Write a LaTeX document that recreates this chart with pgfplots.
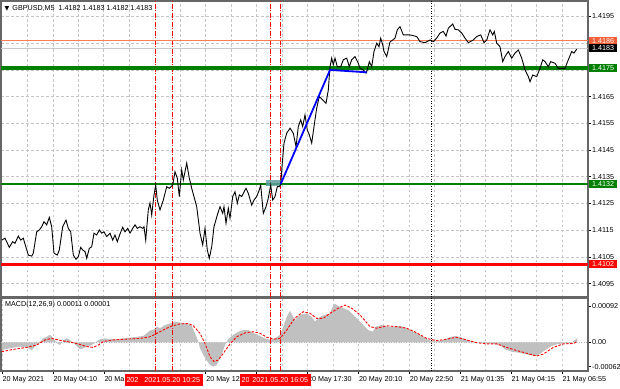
\documentclass[border=0pt]{standalone}
\usepackage{pgfplots}
\pgfplotsset{compat=1.18}
\usepackage{fontspec}
\setmainfont{Liberation Sans}
\newfontfamily\symfont{DejaVu Sans}
\definecolor{gridc}{RGB}{196,196,196}
\definecolor{lvlorange}{RGB}{255,125,85}
\definecolor{boxorange}{RGB}{245,95,55}
\definecolor{lvlgreen}{RGB}{0,128,0}
\definecolor{macdgray}{RGB}{192,192,192}
\definecolor{zoneteal}{RGB}{95,158,160}
\definecolor{bidgray}{RGB}{200,200,200}

\pgfplotstableread{
x y
1.7 1.41113
5 1.41120
9.3 1.41086
12.7 1.41107
15 1.41101
18.3 1.41128
20.7 1.41113
23.3 1.41120
28.3 1.41057
31.7 1.41053
33.3 1.41064
36.7 1.41144
39.3 1.41151
41.7 1.41163
44 1.41182
46.7 1.41170
49.3 1.41198
51.7 1.41163
54 1.41064
57.3 1.41057
59.3 1.41076
62.7 1.41163
66 1.41188
68.3 1.41157
70.7 1.41144
73.3 1.41057
76 1.41041
78.3 1.41051
80.7 1.41086
82.7 1.41076
85 1.41070
86.7 1.41045
89.3 1.41082
91.7 1.41088
94 1.41139
96.7 1.41132
99.3 1.41151
101.7 1.41139
104 1.41144
106.7 1.41126
110 1.41139
112.7 1.41113
115 1.41132
117.3 1.41107
120 1.41136
122.7 1.41161
125 1.41144
127.7 1.41157
130 1.41139
132.7 1.41157
135 1.41170
137.3 1.41157
140 1.41163
142.7 1.41157
144 1.41163
145.7 1.41113
148.3 1.41226
150 1.41252
151.7 1.41207
154 1.41282
155.7 1.41319
157.3 1.41263
160 1.41226
163.3 1.41263
166.7 1.41313
169.3 1.41307
172.7 1.41319
175 1.41369
177.3 1.41345
179.3 1.41276
181.7 1.41376
183.3 1.41338
186.7 1.41401
189.3 1.41345
191.7 1.41307
196.7 1.41238
200 1.41139
202.7 1.41095
205 1.41157
207.3 1.41076
209.3 1.41045
211.7 1.41088
214 1.41163
217.3 1.41207
220 1.41238
222.7 1.41213
224 1.41238
226 1.41176
228.3 1.41232
230 1.41195
232.7 1.41276
235 1.41294
237.3 1.41251
239.3 1.41282
241.7 1.41276
246 1.41307
248.3 1.41288
251.7 1.41244
254 1.41263
256.7 1.41276
259.3 1.41301
260.7 1.41319
263.3 1.41213
266 1.41238
268.3 1.41270
270.7 1.41319
272.7 1.41263
275 1.41276
277.3 1.41313
279.3 1.41313
280.7 1.41320
282 1.41388
284 1.41476
286.7 1.41513
290 1.41532
293.3 1.41513
296 1.41463
298.3 1.41538
300.7 1.41563
302.7 1.41538
305 1.41582
307.3 1.41525
309.3 1.41507
311.7 1.41476
314 1.41538
316.7 1.41607
319.3 1.41650
322.7 1.41638
326 1.41625
328.3 1.41675
330 1.41762
331.7 1.41794
333.3 1.41769
335 1.41794
337.3 1.41762
340.7 1.41762
343.3 1.41788
346.7 1.41794
349.3 1.41762
351.7 1.41788
355 1.41800
358.3 1.41775
360 1.41756
363.3 1.41750
366 1.41738
367.3 1.41750
369.3 1.41781
371.7 1.41762
374 1.41819
376.7 1.41850
379 1.41837
380.7 1.41869
382.7 1.41844
384 1.41819
386.7 1.41800
390 1.41855
392.7 1.41862
395 1.41869
397.3 1.41900
400 1.41912
403.3 1.41881
406.7 1.41881
410 1.41881
416.7 1.41875
420 1.41856
425 1.41852
430 1.41862
433.3 1.41856
436.7 1.41869
440 1.41888
443.3 1.41894
446 1.41877
448.3 1.41906
452.7 1.41922
455 1.41902
458.3 1.41900
461.7 1.41888
465 1.41869
468.3 1.41852
473.3 1.41862
476.7 1.41875
480.7 1.41881
484 1.41852
486.7 1.41862
490 1.41900
492.7 1.41881
494.3 1.41894
496.7 1.41850
500 1.41837
502.7 1.41781
505 1.41800
508.3 1.41819
511.7 1.41794
515 1.41813
518.3 1.41825
521.7 1.41794
525 1.41750
528.3 1.41725
530 1.41706
532.7 1.41731
536.7 1.41725
540 1.41756
542.7 1.41788
545 1.41781
548.3 1.41762
550.7 1.41781
555 1.41775
558.3 1.41756
561.7 1.41756
565 1.41756
568.3 1.41788
571.7 1.41819
574 1.41813
576.7 1.41828
}\price

\pgfplotstableread{
x y
1.7 0
1.7 -0.00020
10 -0.00015
20 -0.00011
26.7 -0.00013
31.7 -0.00020
35 -0.00011
40 0.00002
43.3 0.00010
46.7 0.00014
50 0.00019
53.3 0.00010
57.3 -0.00003
60 -0.00007
64 0.00006
66.7 0.00010
70 0.00006
74 -0.00003
77.3 -0.00011
80 -0.00018
83.3 -0.00015
87.3 -0.00011
91.7 -0.00007
96.7 0.00002
100 0.00008
105 0.00010
110 0.00008
116.7 0.00008
123.3 0.00010
130 0.00012
136.7 0.00014
143.3 0.00016
146.7 0.00023
150 0.00030
154 0.00033
156.7 0.00040
160 0.00036
165 0.00044
170 0.00048
175 0.00053
180 0.00050
186.7 0.00048
191.7 0.00042
195 0.00023
198.3 0.00002
200 -0.00015
203.3 -0.00032
207.3 -0.00049
210.7 -0.00058
213.3 -0.00062
216.7 -0.00058
220 -0.00041
222.7 -0.00024
225 -0.00007
228.3 0.00008
233.3 0.00019
238.3 0.00027
243.3 0.00031
248.3 0.00031
253.3 0.00024
260 0.00016
265 0.00010
270 0.00006
275 0.00010
280 0.00019
283.3 0.00040
286.7 0.00065
290 0.00080
295 0.00057
300 0.00070
306.7 0.00074
311.7 0.00065
315 0.00053
320 0.00065
325 0.00070
330 0.00074
332.7 0.00091
335 0.00098
338.3 0.00093
343.3 0.00087
348.3 0.00082
353.3 0.00070
358.3 0.00057
363.3 0.00044
368.3 0.00031
372.7 0.00027
376 0.00040
381.7 0.00044
388.3 0.00040
395 0.00040
400 0.00042
405 0.00038
410 0.00031
416.7 0.00023
423.3 0.00013
430 0.00004
436.7 0.00002
443.3 0.00006
450 0.00013
455 0.00016
460 0.00013
466.7 0.00006
473.3 0.00002
480 -0.00001
486.7 -0.00003
493.3 -0.00004
500 -0.00007
505 -0.00018
511.7 -0.00024
520 -0.00027
528.3 -0.00032
535 -0.00035
540 -0.00030
545 -0.00020
551.7 -0.00009
558.3 -0.00004
565 -0.00003
571.7 -0.00001
576 0.00008
577.3 0.00011
577.3 0
}\hist

\pgfplotstableread{
x y
1.7 -0.00024
13.3 -0.00018
26.7 -0.00013
36.7 -0.00007
45 0.00006
51.7 0.00010
58.3 0.00006
66.7 0.00002
76.7 -0.00003
86.7 -0.00011
93.3 -0.00013
98.3 -0.00007
103.3 0.00002
113.3 0.00006
126.7 0.00008
140 0.00010
150 0.00014
160 0.00027
170 0.00040
180 0.00047
188.3 0.00048
193.3 0.00042
200 0.00023
205 -0.00003
210 -0.00037
214 -0.00049
218.3 -0.00045
223.3 -0.00028
230 -0.00004
236.7 0.00014
245 0.00024
253.3 0.00027
260 0.00023
266.7 0.00013
273.3 0.00008
280 0.00010
286.7 0.00031
290 0.00044
295 0.00062
303.3 0.00078
310 0.00074
316.7 0.00061
323.3 0.00061
330 0.00074
338.3 0.00087
345 0.00095
351.7 0.00087
360 0.00070
370 0.00040
376.7 0.00036
386.7 0.00042
396.7 0.00040
406.7 0.00036
416.7 0.00024
426.7 0.00010
436.7 0.00004
446.7 0.00008
456.7 0.00013
466.7 0.00006
476.7 -0.00001
486.7 -0.00004
496.7 -0.00004
506.7 -0.00013
516.7 -0.00021
526.7 -0.00028
536.7 -0.00035
543.3 -0.00030
553.3 -0.00013
563.3 -0.00004
573.3 -0.00003
577.3 0.00002
}\signal

\tikzset{
  vred/.style={red, line width=0.9bp, dash pattern=on 5bp off 1.5bp on 1bp off 1.5bp},
  vblk/.style={black, line width=0.8bp, dash pattern=on 1bp off 1.5bp},
  lbl/.style={inner sep=0pt, text=white, font=\fontsize{7.2}{8}\selectfont},
}

\begin{document}
\begin{tikzpicture}[x=1bp,y=1bp]
\fontsize{7.2}{8.6}\selectfont
\useasboundingbox (0,0) rectangle (620,388);
\fill[white] (0,0) rectangle (620,388);

% ---------------- main price panel ----------------
\begin{axis}[
  at={(1bp,91bp)}, anchor=south west,
  scale only axis, width=587bp, height=296bp,
  xmin=1, xmax=588, ymin=1.409, ymax=1.42008,
  scaled ticks=false,
  axis line style={black!60, line width=1.1bp},
  xtick={27.5,52.9,78.4,103.8,129.3,180.2,205.6,231.1,256.5,282,307.4,332.9,358.3,383.8,409.2,434.7,460.1,485.6,511,536.5,561.9},
  xticklabels={}, xtick style={draw=none},
  ytick={1.4095,1.4105,1.4115,1.4125,1.4135,1.4145,1.4155,1.4165,1.4175,1.4185,1.4195},
  yticklabels={1.4095,1.4105,1.4115,1.4125,1.4135,1.4145,1.4155,1.4165,,,1.4195},
  ytick pos=right, yticklabel pos=right,
  tick align=outside, major tick length=3bp,
  ytick style={black, line width=0.6bp},
  yticklabel style={anchor=west, inner sep=0pt, xshift=1bp, font=\fontsize{7.2}{8}\selectfont},
  grid=major, grid style={gridc, line width=0.7bp, dash pattern=on 2.5bp off 2.5bp},
]
% vertical lines
\addplot[vred] coordinates {(155.5,1.409) (155.5,1.42008)};
\addplot[vred] coordinates {(172.3,1.409) (172.3,1.42008)};
\addplot[vred] coordinates {(270.7,1.409) (270.7,1.42008)};
\addplot[vred] coordinates {(280.3,1.409) (280.3,1.42008)};
\addplot[vblk] coordinates {(431,1.409) (431,1.42008)};
% horizontal levels
\addplot[lvlorange, line width=0.9bp] coordinates {(1,1.41860) (588,1.41860)};
\addplot[bidgray, line width=0.9bp] coordinates {(1,1.41831) (588,1.41831)};
\addplot[lvlgreen, line width=3.6bp] coordinates {(1,1.41757) (588,1.41757)};
\addplot[lvlgreen, line width=1.8bp] coordinates {(1,1.41322) (588,1.41322)};
\addplot[red, line width=2.2bp] coordinates {(1,1.41022) (588,1.41022)};
% zone
\addplot[fill=zoneteal, fill opacity=0.85, draw=none] coordinates {(266,1.41316) (281,1.41316) (281,1.41338) (266,1.41338)} -- cycle;
% price
\addplot[black, line width=0.9bp] table[x=x,y=y] {\price};
% trade line
\addplot[blue, line width=1.8bp] coordinates {(280.7,1.41323) (330,1.41750) (367,1.41741)};
\coordinate (p1) at (axis cs:588,1.41860);
\coordinate (p2) at (axis cs:588,1.41831);
\coordinate (p3) at (axis cs:588,1.41757);
\coordinate (p4) at (axis cs:588,1.41322);
\coordinate (p5) at (axis cs:588,1.41022);
\end{axis}

% ---------------- MACD panel ----------------
\begin{axis}[
  at={(1bp,17bp)}, anchor=south west,
  scale only axis, width=587bp, height=73bp,
  xmin=1, xmax=588, ymin=-0.000732, ymax=0.00113,
  scaled ticks=false,
  axis line style={black!60, line width=1.1bp},
  xtick={2,52.9,103.8,205.6,256.5,307.4,358.3,409.2,460.1,511,561.9},
  xticklabels={20 May 2021,20 May 04:10,20 Ma,20 May 12,,20 May 17:30,20 May 20:10,20 May 22:50,21 May 01:35,21 May 04:15,21 May 06:55},
  minor xtick={27.5,78.4,129.3,180.2,231.1,282,332.9,383.8,434.7,485.6,536.5},
  xtick pos=bottom, xticklabel pos=bottom,
  ytick={-0.00062,0,0.00092}, yticklabels={-0.00062,0.00,0.00092},
  ytick pos=right, yticklabel pos=right,
  tick align=outside, major tick length=3bp, minor tick length=0pt,
  tick style={black, line width=0.6bp},
  yticklabel style={anchor=west, inner sep=0pt, xshift=1bp, font=\fontsize{7.2}{8}\selectfont},
  xticklabel style={anchor=north west, inner sep=0pt, xshift=0.5bp, yshift=-2bp, font=\fontsize{7.2}{8}\selectfont},
  xmajorgrids, xminorgrids,
  major grid style={gridc, line width=0.7bp, dash pattern=on 2.5bp off 2.5bp},
  minor grid style={gridc, line width=0.7bp, dash pattern=on 2.5bp off 2.5bp},
]
\addplot[gray!60, line width=0.7bp, dash pattern=on 1bp off 1.5bp] coordinates {(1,0) (588,0)};
\addplot[fill=macdgray, draw=none] table[x=x,y=y] {\hist} -- cycle;
\addplot[vred] coordinates {(155.5,-0.000732) (155.5,0.00113)};
\addplot[vred] coordinates {(172.3,-0.000732) (172.3,0.00113)};
\addplot[vred] coordinates {(270.7,-0.000732) (270.7,0.00113)};
\addplot[vred] coordinates {(280.3,-0.000732) (280.3,0.00113)};
\addplot[vblk] coordinates {(431,-0.000732) (431,0.00113)};
\addplot[red, line width=0.9bp, dash pattern=on 2.5bp off 1.5bp] table[x=x,y=y] {\signal};
\coordinate (d1) at (axis cs:155.5,-0.000732);
\coordinate (d2) at (axis cs:172.3,-0.000732);
\coordinate (d3) at (axis cs:270.7,-0.000732);
\coordinate (d4) at (axis cs:280.3,-0.000732);
\end{axis}

% texts
\node[anchor=west, inner sep=0pt] at (4.5,380) {{\symfont\fontsize{6.2}{6.5}\selectfont ▼}\hspace{3bp}GBPUSD,M5\hspace{4bp}1.4182 1.4183 1.4182 1.4183};
\node[anchor=west, inner sep=0pt] at (5,83) {MACD(12,26,9) 0.00011 0.00001};

% right price labels
\node[lbl, fill=boxorange, anchor=west, minimum width=28bp, minimum height=8bp] at ([xshift=1bp]p1) {1.4186};
\node[lbl, fill=black, anchor=west, minimum width=28bp, minimum height=8bp] at ([xshift=1bp]p2) {1.4183};
\node[lbl, fill=lvlgreen, anchor=west, minimum width=28bp, minimum height=8bp] at ([xshift=1bp]p3) {1.4175};
\node[lbl, fill=lvlgreen, anchor=west, minimum width=28bp, minimum height=8bp] at ([xshift=1bp]p4) {1.4132};
\node[lbl, fill=red, anchor=west, minimum width=28bp, minimum height=8bp] at ([xshift=1bp]p5) {1.4102};

% date labels of vertical lines (the earlier box of each pair is mostly covered)
\node[lbl, fill=red, minimum width=62bp, minimum height=12bp] (b1) at ([yshift=-9bp]d1) {};
\node[lbl, anchor=west] at ([xshift=2bp]b1.west) {202};
\node[lbl, fill=red, minimum width=62bp, minimum height=12bp] at ([yshift=-9bp]d2) {2021.05.20 10:25};
\node[lbl, fill=red, minimum width=62bp, minimum height=12bp] (b3) at ([yshift=-9bp]d3) {};
\node[lbl, anchor=west] at ([xshift=2bp]b3.west) {20};
\node[lbl, fill=red, minimum width=62bp, minimum height=12bp] at ([yshift=-9bp]d4) {2021.05.20 16:05};
\end{tikzpicture}
\end{document}
